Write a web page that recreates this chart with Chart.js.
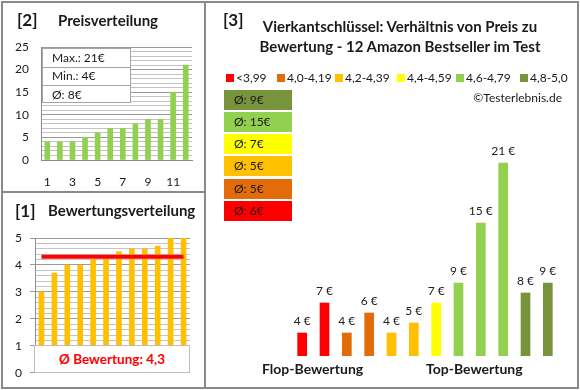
<!DOCTYPE html>
<html><head><meta charset="utf-8">
<script src="https://cdn.jsdelivr.net/npm/chart.js@4"></script>
<style>
body{margin:0;width:580px;height:390px;background:#fff;position:relative;overflow:hidden;font-family:Lato,'Liberation Sans',sans-serif;color:#1a1a1a}
.abs{position:absolute;white-space:nowrap}
canvas{position:absolute}
.b{font-weight:bold}
</style></head><body>
<canvas id="c2" width="205" height="193" style="left:0;top:0"></canvas>
<canvas id="c1" width="205" height="195" style="left:0;top:193px"></canvas>
<canvas id="c3" width="372" height="388" style="left:206px;top:0"></canvas>
<div id="overlay"></div>
<script>
// ---- data ----
const priceCategories = ['1','2','3','4','5','6','7','8','9','10','11','12'];
const prices = [4,4,4,5,6,7,7,8,9,9,15,21];
const priceStats = ['Max.: 21€', 'Min.: 4€', 'Ø: 8€'];

const ratingCategories = ['1','2','3','4','5','6','7','8','9','10','11','12'];
const ratings = [3,3.7,4,4,4.2,4.3,4.5,4.6,4.6,4.7,5,5];
const avgRating = 4.3;
const avgRatingLabel = 'Ø Bewertung: 4,3';

const rankCategories = ['1','2','3','4','5','6','7','8','9','10','11','12'];
const rankPrices = [4,7,4,6,4,5,7,9,15,21,8,9];
const rankColors = ['#FF0000','#FF0000','#E36C0A','#E36C0A','#FFC000','#FFC000','#FFFF00','#92D050','#92D050','#92D050','#77933C','#77933C'];
const legendLabels = ['<3,99','4,0-4,19','4,2-4,39','4,4-4,59','4,6-4,79','4,8-5,0'];
const legendColors = ['#FF0000','#E36C0A','#FFC000','#FFFF00','#92D050','#77933C'];
const groupAvgLabels = ['Ø: 9€','Ø: 15€','Ø: 7€','Ø: 5€','Ø: 5€','Ø: 6€'];
const groupAvgColors = ['#77933C','#92D050','#FFFF00','#FFC000','#E36C0A','#FF0000'];

Chart.defaults.font.family = 'Lato, "Liberation Sans", sans-serif';
Chart.defaults.color = '#1a1a1a';
Chart.defaults.animation = false;

// ---- chart 2: Preisverteilung ----
new Chart(document.getElementById('c2'), {
  type: 'bar',
  data: { labels: priceCategories, datasets: [{ data: prices, backgroundColor: '#92D050', barThickness: 5 }] },
  options: {
    responsive: false,
    layout: { padding: { left: 11, right: 13, top: 47, bottom: 0 } },
    plugins: { legend: { display: false }, tooltip: { enabled: false } },
    scales: {
      x: {
        grid: { display: false, drawTicks: false },
        border: { color: '#8c8c8c' },
        ticks: { autoSkip: false, maxRotation: 0, padding: 15, font: { size: 12 },
          callback: function(v, i) { return i % 2 === 0 ? this.getLabelForValue(v) : ''; } },
        afterFit: s => { s.height = 33; }
      },
      y: {
        min: 0, max: 25,
        grid: { drawTicks: false, color: c => (c.tick.value % 5 === 0 ? '#9a9a9a' : '#c4c4c4') },
        border: { color: '#8c8c8c' },
        ticks: { stepSize: 1, padding: 12, font: { size: 12 }, autoSkip: false,
          callback: v => (v % 5 === 0 ? v : '') },
        afterFit: s => { s.width = 30; }
      }
    }
  }
});

// ---- chart 1: Bewertungsverteilung ----
const isInt = v => Math.abs(v - Math.round(v)) < 1e-6;
new Chart(document.getElementById('c1'), {
  type: 'bar',
  data: { labels: ratingCategories, datasets: [
    { type: 'line', data: ratings.map(() => avgRating), borderColor: '#FF0000', borderWidth: 4, pointRadius: 0, fill: false },
    { data: ratings, backgroundColor: '#FFC000', barThickness: 5 }
  ] },
  options: {
    responsive: false,
    layout: { padding: { left: 10, right: 15, top: 45, bottom: 15 } },
    plugins: { legend: { display: false }, tooltip: { enabled: false } },
    scales: {
      x: { display: false },
      y: {
        min: 0, max: 5,
        grid: { drawTicks: true, tickLength: 5,
          tickColor: c => (isInt(c.tick.value) ? '#9a9a9a' : 'rgba(0,0,0,0)'),
          color: c => (isInt(c.tick.value) ? '#9a9a9a' : '#c4c4c4') },
        border: { color: '#8c8c8c' },
        ticks: { stepSize: 0.2, padding: 8, font: { size: 12 }, autoSkip: false,
          callback: v => (isInt(v) ? Math.round(v) : '') },
        afterFit: s => { s.width = 25; }
      }
    }
  }
});

// ---- chart 3: Preis zu Bewertung ----
const valueLabels = {
  id: 'valueLabels',
  afterDatasetsDraw(chart) {
    const ctx = chart.ctx;
    const meta = chart.getDatasetMeta(0);
    ctx.save();
    ctx.font = '12px Lato, "Liberation Sans", sans-serif';
    ctx.fillStyle = '#222';
    ctx.textAlign = 'center';
    ctx.textBaseline = 'alphabetic';
    meta.data.forEach((bar, i) => {
      ctx.fillText(chart.data.datasets[0].data[i] + ' €', bar.x, bar.y - 8);
    });
    ctx.restore();
  }
};
new Chart(document.getElementById('c3'), {
  type: 'bar',
  data: { labels: rankCategories, datasets: [{ data: rankPrices, backgroundColor: rankColors, barThickness: 9 }] },
  options: {
    responsive: false,
    layout: { padding: { left: 85, right: 19, top: 136, bottom: 32 } },
    plugins: { legend: { display: false }, tooltip: { enabled: false } },
    scales: { x: { display: false }, y: { display: false, min: 1.7, max: 23.7 } }
  },
  plugins: [valueLabels]
});

// ---- HTML overlay: frames & texts ----
const ov = document.getElementById('overlay');
function add(html, style, cls) {
  const d = document.createElement('div');
  d.className = 'abs ' + (cls || '');
  d.style.cssText = style;
  d.textContent = html;
  ov.appendChild(d);
  return d;
}
add('', 'left:1px;top:1px;width:578px;height:388px;border:2px solid #8a8a8a;box-sizing:border-box');
add('', 'left:204px;top:1px;width:2px;height:388px;background:#8a8a8a');
add('', 'left:1px;top:191px;width:204px;height:2px;background:#8a8a8a');

add('[2]', 'left:17px;top:10px;font-size:17px;line-height:20px', 'b');
add('Preisverteilung', 'left:58px;top:11px;font-size:15px;line-height:18px', 'b');
add('[1]', 'left:15px;top:201px;font-size:17px;line-height:20px', 'b');
add('Bewertungsverteilung', 'left:48px;top:201px;font-size:15px;line-height:18px', 'b');
add('[3]', 'left:223px;top:10px;font-size:17px;line-height:20px', 'b');
const t = add('', 'left:230px;top:16px;width:340px;text-align:center;font-size:15px;line-height:20px', 'b');
t.innerHTML = 'Vierkantschlüssel: Verhältnis von Preis zu<br>Bewertung - 12 Amazon Bestseller im Test';

// stats box
add('', 'left:42px;top:48px;width:89px;height:55px;background:#fff;border:1px solid #a6a6a6;box-sizing:border-box');
priceStats.forEach((s, i) => {
  add(s, `left:52px;top:${49 + i * 18.3}px;font-size:12px;line-height:18px`);
  if (i > 0) add('', `left:42px;top:${48 + i * 18.5}px;width:89px;height:1px;background:#a6a6a6`);
});

// rating box
add(avgRatingLabel, 'left:34px;top:345px;width:156px;height:28px;background:#fff;border:1px solid #bfbfbf;box-sizing:border-box;text-align:center;line-height:26px;font-size:13.5px;color:#FF0000', 'b');

// legend
const lx = [226, 277, 335, 397, 456, 520];
legendLabels.forEach((l, i) => {
  add('', `left:${lx[i]}px;top:74px;width:8px;height:8px;background:${legendColors[i]}`);
  add(l, `left:${lx[i] + 10}px;top:70px;font-size:12px;line-height:16px`);
});
add('©Testerlebnis.de', 'right:18px;top:90px;font-size:12px;line-height:16px');

// group average boxes
const gTops = [90, 112, 134, 156, 179, 201];
groupAvgLabels.forEach((l, i) => {
  add(l, `left:224px;top:${gTops[i]}px;width:68px;height:20px;background:${groupAvgColors[i]};font-size:12px;line-height:20px;padding-left:10px;box-sizing:border-box`);
});

add('Flop-Bewertung', 'left:262px;top:360px;font-size:14px;line-height:18px', 'b');
add('Top-Bewertung', 'left:426px;top:360px;font-size:14px;line-height:18px', 'b');
</script>
</body></html>
